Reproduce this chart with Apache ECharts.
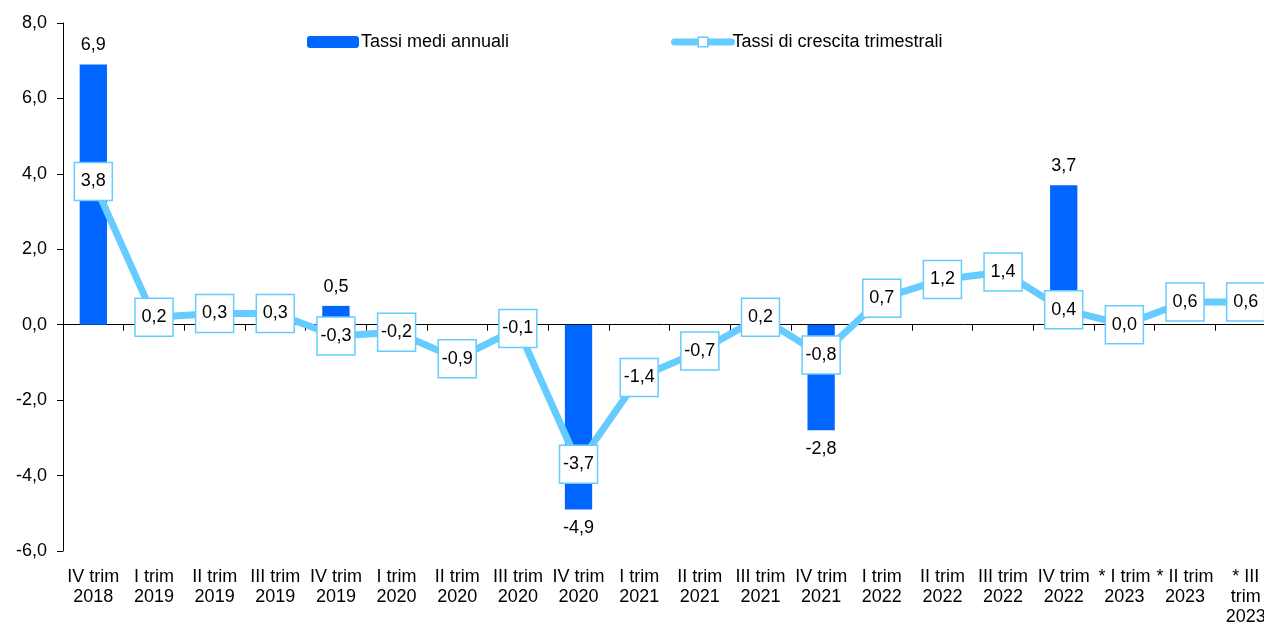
<!DOCTYPE html>
<html><head><meta charset="utf-8">
<script src="https://cdn.jsdelivr.net/npm/echarts@6/dist/echarts.min.js"></script>
<style>html,body{margin:0;padding:0;background:#fff}#c{width:1264px;height:623px}</style>
</head><body><div id="c"></div>
<script>
const categories = ['IV trim\n2018','I trim\n2019','II trim\n2019','III trim\n2019','IV trim\n2019','I trim\n2020','II trim\n2020','III trim\n2020','IV trim\n2020','I trim\n2021','II trim\n2021','III trim\n2021','IV trim\n2021','I trim\n2022','II trim\n2022','III trim\n2022','IV trim\n2022','* I trim\n2023','* II trim\n2023','* III\ntrim\n2023'];
const annualRates = [6.9,null,null,null,0.5,null,null,null,-4.9,null,null,null,-2.8,null,null,null,3.7,null,null,null];
const quarterlyRates = [3.8,0.2,0.3,0.3,-0.3,-0.2,-0.9,-0.1,-3.7,-1.4,-0.7,0.2,-0.8,0.7,1.2,1.4,0.4,0.0,0.6,0.6];
const yTicks = {min:-6, max:8, interval:2};

const fmt = v => v.toFixed(1).replace('.', ',');
const font = 'Liberation Sans, Arial, sans-serif';
const chart = echarts.init(document.getElementById('c'));
chart.setOption({
  animation:false,
  textStyle:{fontFamily:font},
  legend:[
    {data:['Tassi medi annuali'], left:302, top:28, itemWidth:52, itemHeight:12, itemGap:0,
     textStyle:{fontSize:18, color:'#000', fontFamily:font, padding:[0,0,0,-3]}},
    {data:['Tassi di crescita trimestrali'], left:666, top:28, itemWidth:57, itemHeight:12,
     lineStyle:{width:7, color:'#66CCFF', cap:'round'},
     itemStyle:{color:'#fff', borderColor:'#66CCFF', borderWidth:1.5},
     textStyle:{fontSize:18, color:'#000', fontFamily:font, padding:[0,0,0,-4]}}
  ],
  grid:{left:63, top:23, bottom:72, right:-12, containLabel:false, outerBoundsMode:'none'},
  xAxis:[
    {type:'category', data:categories, position:'bottom',
     axisLine:{show:false, onZero:false}, axisTick:{show:false},
     axisLabel:{fontSize:18, color:'#000', lineHeight:20, margin:16, interval:0, fontFamily:font}},
    {type:'category', data:categories, position:'bottom',
     axisLine:{onZero:true, lineStyle:{color:'#000', width:1}},
     axisTick:{show:true, length:6, lineStyle:{color:'#000'}}, axisLabel:{show:false}}
  ],
  yAxis:{type:'value', min:yTicks.min, max:yTicks.max, interval:yTicks.interval,
    axisLine:{show:true, lineStyle:{color:'#000'}}, axisTick:{show:true, length:6, lineStyle:{color:'#000'}},
    splitLine:{show:false},
    axisLabel:{fontSize:18, color:'#000', margin:16, formatter:v=>fmt(v), fontFamily:font}},
  series:[
    {name:'Tassi medi annuali', type:'bar', data:annualRates.map(v => v==null?null:{value:v, label:{position: v<0?'bottom':'top'}}),
     barWidth:'45%',
     itemStyle:{color:'#0066FF'},
     label:{show:true, fontSize:18, color:'#000', distance:10, fontFamily:font,
       formatter:p=>p.value==null?'':fmt(p.value)},
     z:2},
    {name:'Tassi di crescita trimestrali', type:'line', data:quarterlyRates,
     lineStyle:{color:'#66CCFF', width:7}, itemStyle:{color:'#fff', borderColor:'#66CCFF', borderWidth:1.5},
     symbol:'rect', symbolSize:[38,38], showAllSymbol:true,
     label:{show:true, position:'inside', fontSize:18, color:'#000', fontFamily:font, formatter:p=>fmt(p.value)},
     z:3}
  ]
});
</script></body></html>
